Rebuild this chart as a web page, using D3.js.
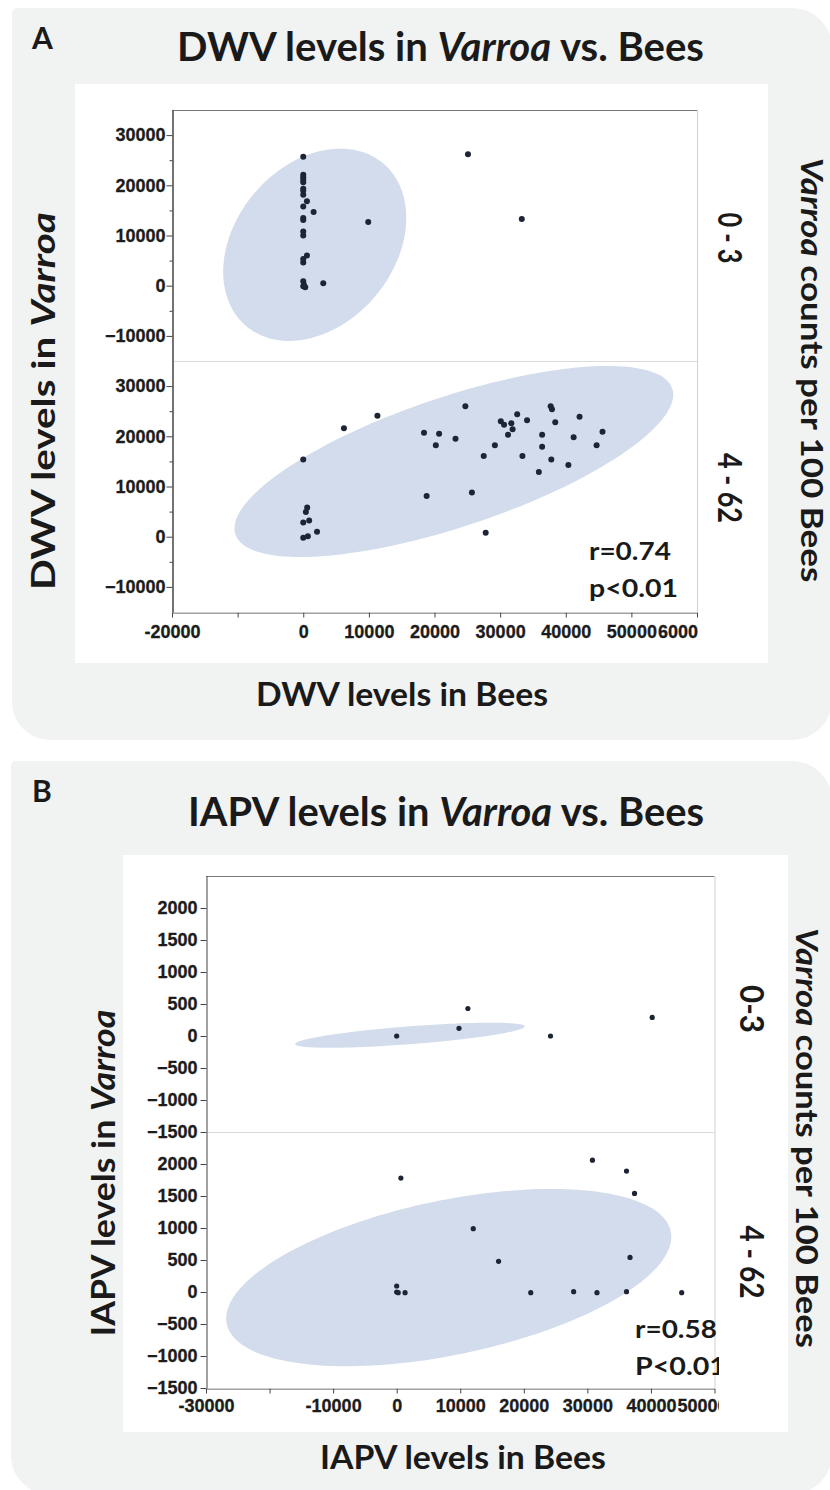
<!DOCTYPE html>
<html lang="en">
<head>
<meta charset="utf-8">
<title>Virus levels in Varroa vs. Bees</title>
<script src="https://d3js.org/d3.v7.min.js"></script>
<style>
  body { margin: 0; background: #fff; }
  svg { display: block; }
  .tick text { font-family: "Liberation Sans", Arial, sans-serif; font-weight: bold; font-size: 18px; fill: #1c1c1c; stroke: #1c1c1c; stroke-width: 0.3px; }
</style>
</head>
<body>
<div id="fig"></div>
<script>

// ---- Panel A : DWV, [level in bees, level in varroa] ----
var dwvLow = [
  [0, 25700], [0, 22100], [0, 21600], [0, 21100], [0, 20600], [0, 19300], [0, 18900],
  [0, 18100], [560, 16800], [0, 15800], [1580, 14700], [0, 13500], [0, 13100],
  [9900, 12700], [0, 10800], [0, 10000], [560, 6000], [0, 5300], [0, 4600], [0, 900],
  [100, 200], [0, -100], [300, -300], [3050, 500], [25100, 26200], [33300, 13300]
];
var dwvHigh = [
  [0, 15400], [6200, 21600], [11300, 24100], [600, 5800], [400, 4900], [0, 2850],
  [900, 3250], [2100, 1000], [0, -200], [700, 100], [18400, 20700], [20200, 18200],
  [20700, 20500], [23200, 19500], [18800, 8100], [24700, 26000], [25700, 8800],
  [27500, 16100], [27800, 800], [29200, 18200], [30100, 23000], [30600, 22300],
  [31200, 20300], [31700, 22600], [31900, 21400], [32600, 24400], [33400, 16100],
  [34100, 23200], [35900, 12900], [36400, 20300], [36400, 17900], [37700, 26000],
  [37900, 25400], [37800, 15400], [38400, 22800], [40400, 14300], [41200, 19800],
  [42100, 23900], [44700, 18200], [45600, 20900]
];
// density ellipses: [mean x, mean y, half range x, half range y, r]
var dwvLowEllipse = [1750, 8150, 13950, 19150, 0.28];
var dwvHighEllipse = [22950, 14980, 33430, 19020, 0.70];

var dwvXTicks = [-20000, -10000, 0, 10000, 20000, 30000, 40000, 50000, 60000];
var dwvXLabels = ["-20000", "", "0", "10000", "20000", "30000", "40000", "50000", "60000"];
var dwvYTicks = [-10000, 0, 10000, 20000, 30000];
var dwvYMinor = [-5000, 5000, 15000, 25000];

// ---- Panel B : IAPV ----
var iapvLow = [[0, 0], [9800, 120], [11200, 430], [24200, 0], [40200, 290]];
var iapvHigh = [
  [660, 1780], [0, 94], [0, 0], [240, -10], [1320, -10], [12050, 990], [16030, 480],
  [21090, -10], [27840, 5], [30800, 2060], [31510, -10], [36160, 1890], [36160, 5],
  [37420, 1540], [36710, 540], [44840, -10]
];
var iapvLowEllipse = [2080, 12, 18050, 196, 0.70];
var iapvHighEllipse = [8190, 225, 35010, 1385, 0.46];

var iapvXTicks = [-30000, -20000, -10000, 0, 10000, 20000, 30000, 40000, 50000];
var iapvXLabels = ["-30000", "", "-10000", "0", "10000", "20000", "30000", "40000", "50000"];
var iapvYTicks = [-1500, -1000, -500, 0, 500, 1000, 1500, 2000];

var facetNamesA = ["0 - 3", "4 - 62"];
var facetNamesB = ["0-3", "4 - 62"];
var statsA = ["r=0.74", "p<0.01"];
var statsB = ["r=0.58", "P<0.01"];

var TITLE_FONT = "Lato, 'Open Sans', sans-serif";

var svg = d3.select("#fig").append("svg")
  .attr("width", 830)
  .attr("height", 1490);

// rounded gray panel backgrounds
function panelPath(x0, y0, x1, y1, rTL, rTR, rBL) {
  return "M" + (x0 + rTL) + "," + y0 + "H" + (x1 - rTR) +
    "A" + rTR + "," + rTR + " 0 0 1 " + x1 + "," + (y0 + rTR) +
    "V" + (y1 - rTR) + "A" + rTR + "," + rTR + " 0 0 1 " + (x1 - rTR) + "," + y1 +
    "H" + (x0 + rBL) + "A" + rBL + "," + rBL + " 0 0 1 " + x0 + "," + (y1 - rBL) +
    "V" + (y0 + rTL) + "A" + rTL + "," + rTL + " 0 0 1 " + (x0 + rTL) + "," + y0 + "Z";
}

// text made of [string, italic] parts, squeezed to a given width
function fitLabel(g, parts, o) {
  var t = g.append("text")
    .attr("text-anchor", o.anchor || "middle")
    .style("font-family", TITLE_FONT)
    .style("font-weight", 700)
    .style("font-size", o.size + "px")
    .attr("fill", "#1a1a1a");
  parts.forEach(function(p) {
    t.append("tspan").style("font-style", p[1] ? "italic" : "normal").text(p[0]);
  });
  var k = o.width ? o.width / t.node().getBBox().width : 1;
  t.attr("transform", "translate(" + o.x + "," + o.y + ") rotate(" + (o.rotate || 0) + ") scale(" + k + ",1)");
  return t;
}

function ellipsePoints(e) {
  var k = Math.sqrt(1 - e[4] * e[4]);
  return d3.range(0, 2 * Math.PI + 0.01, Math.PI / 90).map(function(t) {
    return [e[0] + e[2] * Math.cos(t), e[1] + e[3] * (e[4] * Math.cos(t) + k * Math.sin(t))];
  });
}

function drawPanel(cfg) {
  var g = svg.append("g");

  g.append("path")
    .attr("d", panelPath(cfg.bg[0], cfg.bg[1], cfg.bg[2], cfg.bg[3], 5, 40, 38))
    .attr("fill", "#f1f2f2");
  g.append("rect")
    .attr("x", cfg.white[0]).attr("y", cfg.white[1])
    .attr("width", cfg.white[2] - cfg.white[0])
    .attr("height", cfg.white[3] - cfg.white[1])
    .attr("fill", "#fff");

  g.append("clipPath").attr("id", cfg.id + "clip")
    .append("rect").attr("x", 0).attr("y", 0)
    .attr("width", cfg.clipRight).attr("height", 1490);

  var x = cfg.x;
  var left = x.range()[0], right = x.range()[1];

  // frame
  g.append("line").attr("x1", left).attr("x2", right)
    .attr("y1", cfg.top + 0.5).attr("y2", cfg.top + 0.5)
    .attr("stroke", "#777").attr("stroke-width", 1.2);
  g.append("line").attr("x1", right + 0.5).attr("x2", right + 0.5)
    .attr("y1", cfg.top).attr("y2", cfg.bottom)
    .attr("stroke", "#d0d0d0");
  g.append("line").attr("x1", left).attr("x2", right)
    .attr("y1", cfg.facets[0].y.range()[0] + 0.5).attr("y2", cfg.facets[0].y.range()[0] + 0.5)
    .attr("stroke", "#dadada");

  var line = d3.line();

  cfg.facets.forEach(function(f) {
    var y = f.y;
    g.append("path")
      .attr("d", line(ellipsePoints(f.ellipse).map(function(p) { return [x(p[0]), y(p[1])]; })))
      .attr("fill", "#d3dcec");

    g.append("g").selectAll("circle")
      .data(f.points)
      .enter()
      .append("circle")
        .attr("cx", function(d) { return x(d[0]); })
        .attr("cy", function(d) { return y(d[1]); })
        .attr("r", cfg.dotR)
        .attr("fill", "#1d2433");

    var ya = g.append("g")
      .attr("transform", "translate(" + (left + 0.5) + ",0)")
      .call(d3.axisLeft(y).tickValues(cfg.yTicks).tickFormat(d3.format("d"))
        .tickSize(6).tickSizeOuter(0).tickPadding(cfg.yPad));
    if (cfg.yMinor) {
      ya.call(function(sel) {
        sel.append("g").call(d3.axisLeft(y).tickValues(cfg.yMinor).tickFormat("")
          .tickSize(3).tickSizeOuter(0));
      });
    }
    ya.selectAll(".domain, line").attr("stroke", "#444");
  });

  // bottom axis, labels clipped at the graph edge
  var xa = g.append("g")
    .attr("clip-path", "url(#" + cfg.id + "clip)")
    .attr("transform", "translate(0," + (cfg.bottom + 0.5) + ")")
    .call(d3.axisBottom(x).tickValues(cfg.xTicks)
      .tickFormat(function(d, i) { return cfg.xLabels[i]; })
      .tickSize(5).tickSizeOuter(0).tickPadding(cfg.xPad));
  xa.selectAll(".domain, line").attr("stroke", "#444");
  // last label pushed against the previous one, as in the exported graph
  var texts = xa.selectAll(".tick text").nodes();
  var n = cfg.xTicks.length;
  var prevEnd = x(cfg.xTicks[n - 2]) + texts[n - 2].getComputedTextLength() / 2 + 1;
  d3.select(texts[n - 1])
    .attr("text-anchor", "start")
    .attr("x", prevEnd - x(cfg.xTicks[n - 1]));

  // correlation text
  var st = g.append("g").attr("clip-path", "url(#" + cfg.id + "clip)");
  fitLabel(st, [[cfg.stats[0], 0]], { x: cfg.statsX, y: cfg.statsY[0], size: 24, anchor: "start", width: 82 });
  fitLabel(st, [[cfg.stats[1], 0]], { x: cfg.statsX, y: cfg.statsY[1], size: 24, anchor: "start", width: cfg.statsW });

  // facet labels on the right
  cfg.facets.forEach(function(f, i) {
    fitLabel(g, [[cfg.facetNames[i], 0]], { x: cfg.facetX, y: cfg.facetY[i], size: 32, rotate: 90, width: cfg.facetW[i] });
  });

  // titles
  fitLabel(g, [[cfg.letter, 0]], { x: 32, y: cfg.letterY, size: 30, anchor: "start" });
  fitLabel(g, [[cfg.virus + " levels in ", 0], ["Varroa", 1], [" vs. Bees", 0]], cfg.title);
  fitLabel(g, [[cfg.virus + " levels in Bees", 0]], cfg.xTitle);
  fitLabel(g, [[cfg.virus + " levels in ", 0], ["Varroa", 1]], cfg.yTitle);
  fitLabel(g, [["Varroa", 1], [" counts per 100 Bees", 0]], cfg.rTitle);
}

drawPanel({
  id: "a", letter: "A", letterY: 49, virus: "DWV",
  bg: [12, 8, 832, 740], white: [75, 84, 768, 663], clipRight: 698,
  x: d3.scaleLinear([-20000, 60000], [172, 697]),
  top: 110, bottom: 612,
  facets: [
    { y: d3.scaleLinear([-15000, 35000], [361, 110]), points: dwvLow, ellipse: dwvLowEllipse },
    { y: d3.scaleLinear([-15000, 35000], [612, 361]), points: dwvHigh, ellipse: dwvHighEllipse }
  ],
  xTicks: dwvXTicks, xLabels: dwvXLabels, yTicks: dwvYTicks, yMinor: dwvYMinor,
  xPad: 8, yPad: 1, dotR: 3,
  stats: statsA, statsX: 589, statsY: [560, 597], statsW: 89,
  facetNames: facetNamesA, facetX: 718, facetY: [238, 488], facetW: [51, 70],
  title: { x: 440.5, y: 61, size: 40, width: 527 },
  xTitle: { x: 402, y: 706, size: 32, width: 292 },
  yTitle: { x: 55, y: 401, size: 32, rotate: -90, width: 378 },
  rTitle: { x: 801, y: 370, size: 30, rotate: 90, width: 425 }
});

drawPanel({
  id: "b", letter: "B", letterY: 802, virus: "IAPV",
  bg: [11, 761, 832, 1494], white: [123, 855, 788, 1432], clipRight: 719,
  x: d3.scaleLinear([-30000, 50000], [206, 714.5]),
  top: 876, bottom: 1388,
  facets: [
    { y: d3.scaleLinear([-1500, 2500], [1132, 876]), points: iapvLow, ellipse: iapvLowEllipse },
    { y: d3.scaleLinear([-1500, 2500], [1388, 1132]), points: iapvHigh, ellipse: iapvHighEllipse }
  ],
  xTicks: iapvXTicks, xLabels: iapvXLabels, yTicks: iapvYTicks, yMinor: null,
  xPad: 6, yPad: 3, dotR: 2.6,
  stats: statsB, statsX: 635, statsY: [1338, 1375], statsW: 91,
  facetNames: facetNamesB, facetX: 740, facetY: [1009, 1262], facetW: [48, 73],
  title: { x: 446, y: 826, size: 40, width: 516 },
  xTitle: { x: 463, y: 1469, size: 32, width: 286 },
  yTitle: { x: 115, y: 1173, size: 32, rotate: -90, width: 327 },
  rTitle: { x: 796, y: 1138, size: 30, rotate: 90, width: 420 }
});

</script>
</body>
</html>
